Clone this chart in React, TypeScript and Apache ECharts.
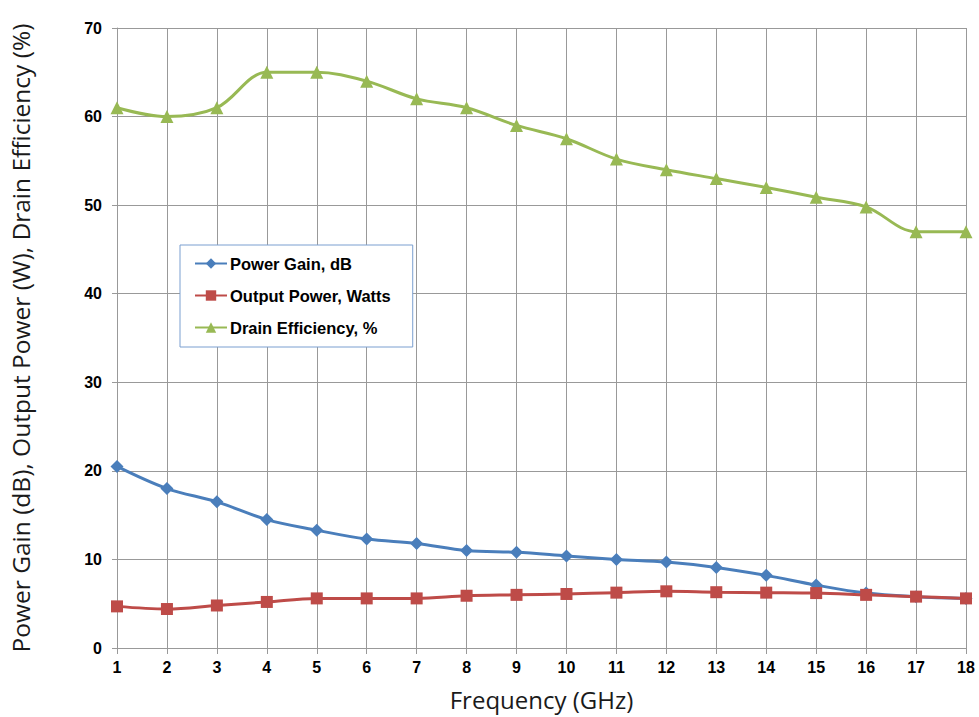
import React, { useEffect, useRef } from "react";
import * as echarts from "echarts";

const frequencies = [1, 2, 3, 4, 5, 6, 7, 8, 9, 10, 11, 12, 13, 14, 15, 16, 17, 18];
const powerGain = [20.5, 18.0, 16.5, 14.5, 13.3, 12.3, 11.8, 11.0, 10.8, 10.4, 10.0, 9.7, 9.1, 8.2, 7.1, 6.2, 5.8, 5.6];
const outputPower = [4.7, 4.4, 4.8, 5.2, 5.6, 5.6, 5.6, 5.9, 6.0, 6.1, 6.25, 6.4, 6.3, 6.25, 6.2, 6.0, 5.8, 5.6];
const drainEfficiency = [61, 60, 61, 65, 65, 64, 62, 61, 59, 57.5, 55.2, 54, 53, 52, 50.9, 49.8, 47, 47];
const seriesNames = ["Power Gain, dB", "Output Power, Watts", "Drain Efficiency, %"];

const pair = (vals: number[]) => frequencies.map((f, i) => [f, vals[i]]);

export default function App() {
  const ref = useRef<HTMLDivElement>(null);
  useEffect(() => {
    if (!ref.current) return;
    const chart = echarts.init(ref.current, undefined, { renderer: "svg" });
    const tickFont = { fontFamily: "Liberation Sans", fontWeight: "bold" as const, fontSize: 16, color: "#000" };
    const gridLine = { show: true, lineStyle: { color: "#999", width: 1 } };
    chart.setOption({
      animation: false,
      backgroundColor: "#fff",
      grid: { left: 117, right: 13, top: 28, bottom: 69, containLabel: false, outerBoundsMode: "none" },
      xAxis: {
        type: "value",
        min: 1,
        max: 18,
        interval: 1,
        name: "Frequency (GHz)",
        nameLocation: "middle",
        nameGap: 39,
        nameTextStyle: { fontFamily: "Open Sans", fontSize: 24, color: "#1a1a1a" },
        axisLine: { show: true, lineStyle: { color: "#999", width: 1 } },
        axisTick: { show: true, length: 6, lineStyle: { color: "#999" } },
        axisLabel: { ...tickFont, margin: 11 },
        splitLine: gridLine,
      },
      yAxis: {
        type: "value",
        min: 0,
        max: 70,
        interval: 10,
        name: "Power Gain (dB), Output Power (W), Drain Efficiency (%)",
        nameLocation: "middle",
        nameGap: 84,
        nameTextStyle: { fontFamily: "Open Sans", fontSize: 24.5, color: "#1a1a1a" },
        axisLine: { show: true, lineStyle: { color: "#999", width: 1 } },
        axisTick: { show: true, length: 5, lineStyle: { color: "#999" } },
        axisLabel: { ...tickFont, margin: 15 },
        splitLine: gridLine,
      },
      legend: {
        orient: "vertical",
        left: 180,
        top: 245,
        padding: [10, 22, 11, 14],
        itemGap: 15,
        itemWidth: 32,
        itemHeight: 13,
        borderColor: "#7a9fd0",
        borderWidth: 1,
        backgroundColor: "#fff",
        textStyle: { fontFamily: "Liberation Sans", fontWeight: "bold", fontSize: 16.5, color: "#000", padding: [0, 0, 0, -2] },
        data: seriesNames,
      },
      series: [
        {
          name: seriesNames[0],
          type: "line",
          data: pair(powerGain),
          smooth: 0.35,
          symbol: "diamond",
          symbolSize: 13,
          color: "#4a7ebb",
          lineStyle: { width: 3, color: "#4a7ebb" },
          itemStyle: { color: "#4a7ebb" },
        },
        {
          name: seriesNames[1],
          type: "line",
          data: pair(outputPower),
          smooth: 0.35,
          symbol: "rect",
          symbolSize: 12,
          color: "#be4b48",
          lineStyle: { width: 3, color: "#be4b48" },
          itemStyle: { color: "#be4b48" },
        },
        {
          name: seriesNames[2],
          type: "line",
          data: pair(drainEfficiency),
          smooth: 0.35,
          symbol: "triangle",
          symbolSize: 13,
          color: "#98b954",
          lineStyle: { width: 3, color: "#98b954" },
          itemStyle: { color: "#98b954" },
        },
      ],
    });
    return () => chart.dispose();
  }, []);
  return <div ref={ref} style={{ position: "fixed", left: 0, top: 0, width: 979, height: 717 }} />;
}
